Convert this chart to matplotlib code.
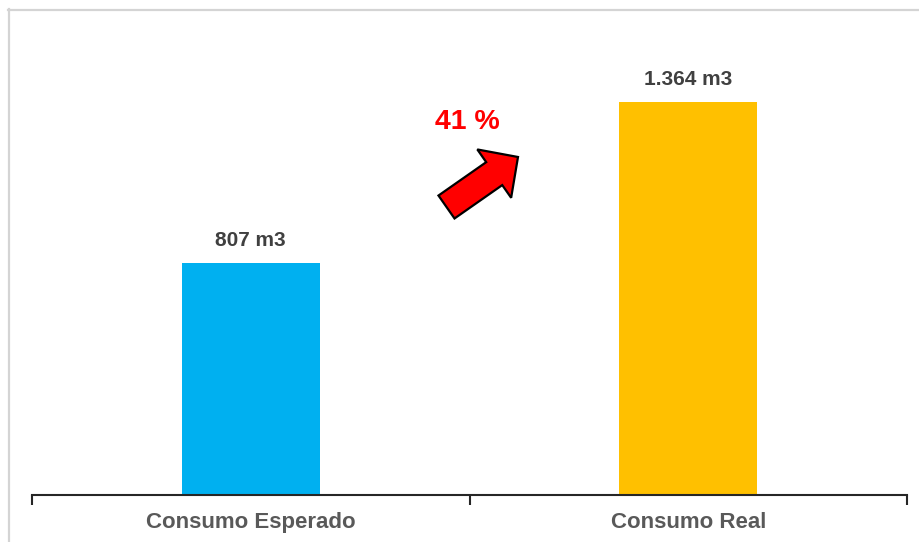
import matplotlib
matplotlib.use("Agg")
import matplotlib.pyplot as plt
from matplotlib.lines import Line2D
from matplotlib.patches import FancyArrow

plt.rcParams["font.family"] = ["Liberation Sans", "DejaVu Sans"]

# consumo de agua (m3)
categorias = ["Consumo Esperado", "Consumo Real"]
consumo = [807, 1364]
etiquetas = ["807 m3", "1.364 m3"]
colores = ["#00B0F0", "#FFC000"]
variacion = "41 %"

fig = plt.figure(figsize=(9.19, 5.42), dpi=100)
fig.patch.set_facecolor("white")

ax = fig.add_axes([32 / 919, 47 / 542, 875 / 919, 460.8 / 542])
x = list(range(len(categorias)))
ax.bar(x, consumo, width=0.315, color=colores, zorder=2)

for xi, v, txt in zip(x, consumo, etiquetas):
    ax.annotate(txt, (xi, v), xytext=(0, 16), textcoords="offset points",
                ha="center", va="center", fontsize=15, fontweight="bold",
                color="#404040")

ax.set_xlim(-0.5, 1.5)
ax.set_ylim(0, 1600)
ax.set_xticks(x)
ax.set_xticklabels(categorias, fontsize=16, fontweight="bold", color="#595959")
ax.set_xticks([-0.5, 0.5, 1.5], minor=True)
ax.tick_params(axis="x", which="major", length=0, pad=12)
ax.tick_params(axis="x", which="minor", length=7, width=1.5, color="#262626",
               direction="out")
ax.set_yticks([])
for s in ["top", "right", "left"]:
    ax.spines[s].set_visible(False)
ax.spines["bottom"].set_color("#262626")
ax.spines["bottom"].set_linewidth(1.5)

# marco gris de la diapositiva
fig.add_artist(Line2D([8 / 919, 1], [1 - 9.5 / 542, 1 - 9.5 / 542],
                      transform=fig.transFigure, color="#d4d4d4", lw=1.6))
fig.add_artist(Line2D([8.5 / 919, 8.5 / 919], [0, 1 - 9 / 542],
                      transform=fig.transFigure, color="#d4d4d4", lw=1.6))

# flecha de aumento
flecha = FancyArrow(4.465, 3.35, 0.715, 0.50, width=0.28, head_width=0.59,
                    head_length=0.29, length_includes_head=True,
                    facecolor="#FF0000", edgecolor="black", linewidth=1.6,
                    transform=fig.dpi_scale_trans)
fig.add_artist(flecha)
fig.text(467 / 919, 1 - 122 / 542, variacion, ha="center", va="center",
         fontsize=20.5, fontweight="bold", color="#FF0000")

fig.savefig("out.png", dpi=100)
